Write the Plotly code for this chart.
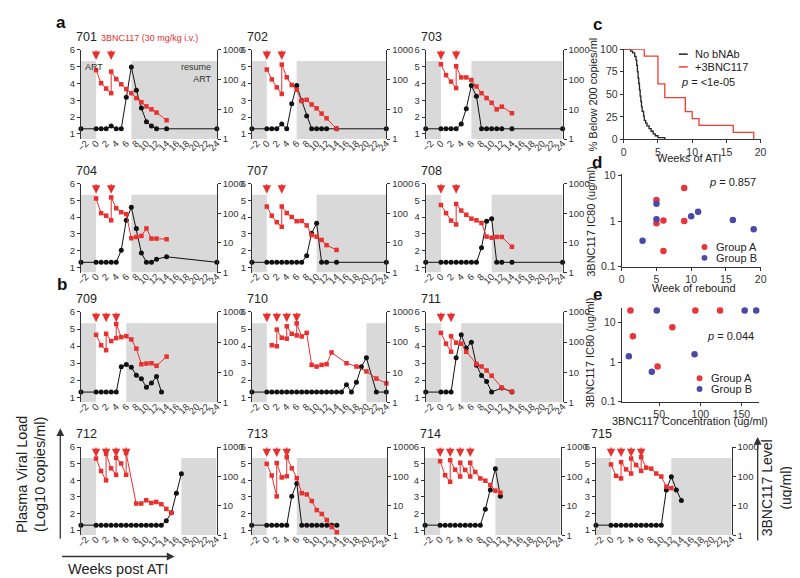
import plotly.graph_objects as go

W, H = 800, 578
RED = '#e8312f'
BLACK = '#111111'
SHADE = '#d9d9d9'
BLUE = '#4a4aa6'
FONT = 'Liberation Sans, Arial, sans-serif'

# ---- per-participant data: weeks / log10 viral load (black), weeks / 3BNC117 ug/ml (red)
wk_701 = [-3, 0, 1, 2, 3, 4, 5, 6, 7, 8, 9, 10, 11, 12, 14, 24]
vl_701 = [1.3, 1.3, 1.3, 1.3, 1.47, 1.3, 1.3, 3.18, 4.99, 3.6, 2.54, 1.72, 1.47, 1.3, 1.3, 1.3]
abwk_701 = [0, 1, 2, 3, 3, 4, 5, 6, 7, 8, 9, 10, 11, 12, 14]
ab_701 = [209, 76, 50, 35, 187, 105, 70, 48, 35, 24, 17.4, 12.6, 10, 7.8, 4.3]
inf_701 = [0, 3]
art_701 = 7

wk_702 = [-3, 0, 1, 2, 3, 4, 5, 6, 7, 8, 9, 10, 11, 12, 14, 24]
vl_702 = [1.3, 1.3, 1.3, 1.3, 1.58, 1.3, 2.79, 3.88, 2.98, 2.07, 1.3, 1.3, 1.3, 1.3, 1.3, 1.3]
abwk_702 = [0, 1, 2, 3, 3, 4, 5, 6, 7, 8, 9, 10, 11, 12, 14]
ab_702 = [219, 102, 55, 33, 321, 120, 66, 46, 19, 21, 14.6, 10.8, 7.2, 5.0, 2.2]
inf_702 = [0, 3]
art_702 = 6

wk_703 = [-3, 0, 1, 2, 3, 4, 5, 6, 7, 8, 9, 10, 11, 12, 14, 24]
vl_703 = [1.3, 1.3, 1.3, 1.3, 1.3, 1.58, 2.5, 3.88, 3.24, 1.3, 1.3, 1.3, 1.3, 1.3, 1.3, 1.3]
abwk_703 = [0, 1, 2, 3, 3, 4, 5, 6, 7, 8, 9, 10, 11, 12, 14]
ab_703 = [330, 142, 86, 52, 283, 119, 119, 97, 59, 35, 24, 16.6, 10, 12.3, 7.4]
inf_703 = [0, 3]
art_703 = 6

wk_704 = [-3, 0, 1, 2, 3, 4, 5, 6, 7, 8, 9, 10, 11, 12, 14, 24]
vl_704 = [1.3, 1.3, 1.3, 1.3, 1.3, 1.3, 2.02, 3.82, 4.59, 3.32, 1.86, 1.3, 1.3, 1.49, 1.63, 1.3]
abwk_704 = [0, 1, 2, 3, 3, 4, 5, 6, 7, 8, 9, 10, 11, 12, 14]
ab_704 = [317, 101, 83, 58, 344, 148, 109, 94, 14.4, 15.9, 17.2, 30.8, 14, 14, 13.3]
inf_704 = [0, 3]
art_704 = 7

wk_707 = [-3, 0, 1, 2, 3, 4, 5, 6, 7, 8, 9, 10, 11, 12, 14, 24]
vl_707 = [1.3, 1.3, 1.3, 1.3, 1.3, 1.3, 1.3, 1.3, 1.3, 1.69, 3.04, 3.63, 1.3, 1.3, 1.3, 1.3]
abwk_707 = [0, 1, 2, 3, 3, 4, 5, 6, 7, 8, 9, 10, 11, 12, 14]
ab_707 = [169, 83, 50, 35, 169, 102, 75, 54, 55, 39, 18.5, 16.3, 12.6, 8.4, 5.8]
inf_707 = [0, 3]
art_707 = 10

wk_708 = [-3, 0, 1, 2, 3, 4, 5, 6, 7, 8, 9, 10, 11, 12, 14, 24]
vl_708 = [1.3, 1.3, 1.3, 1.3, 1.3, 1.3, 1.3, 1.3, 1.3, 2.17, 3.76, 3.9, 1.3, 1.3, 1.3, 1.3]
abwk_708 = [0, 1, 2, 3, 3, 4, 5, 6, 7, 8, 9, 10, 11, 12, 14]
ab_708 = [191, 101, 57, 42, 207, 124, 89, 66, 58, 47, 16.3, 15, 15.9, 15.9, 7.4]
inf_708 = [0, 3]
art_708 = 10

wk_709 = [-3, 0, 1, 2, 3, 4, 5, 6, 7, 8, 9, 10, 11, 12, 13]
vl_709 = [1.3, 1.3, 1.3, 1.3, 1.3, 1.3, 2.79, 2.92, 2.75, 2.29, 2.08, 1.58, 1.83, 2.21, 1.3]
abwk_709 = [0, 1, 2, 2, 3, 4, 4, 5, 6, 7, 8, 9, 10, 11, 12, 14]
ab_709 = [175, 79, 54, 189, 109, 136, 398, 147, 158, 123, 61, 18.5, 19.5, 20, 16.4, 33]
inf_709 = [0, 2, 4]
art_709 = 6

wk_710 = [-3, 0, 1, 2, 3, 4, 5, 6, 7, 8, 9, 10, 11, 12, 13, 14, 15, 16, 17, 18, 19, 20, 22, 24]
vl_710 = [1.3, 1.3, 1.3, 1.3, 1.3, 1.3, 1.3, 1.3, 1.3, 1.3, 1.3, 1.3, 1.3, 1.3, 1.3, 1.3, 1.3,
          1.73, 1.3, 1.87, 2.79, 3.31, 1.3, 1.3]
abwk_710 = [1, 2, 2, 3, 4, 4, 5, 6, 6, 7, 8, 9, 10, 11, 12, 13, 16, 18, 20, 22, 24]
ab_710 = [79, 73, 261, 140, 130, 335, 189, 167, 418, 154, 203, 17.6, 15.5, 17.6, 18.5, 45.6,
          20, 15.5, 10.7, 6.2, 4.3]
inf_710 = [0, 2, 4, 6]
art_710 = 20

wk_711 = [-3, 0, 1, 2, 3, 4, 5, 6, 7, 8, 9, 10, 12, 14]
vl_711 = [1.3, 1.3, 1.3, 1.3, 3.31, 4.67, 3.88, 4.23, 2.88, 2.27, 1.92, 1.3, 1.54, 1.3]
abwk_711 = [0, 1, 2, 2, 3, 4, 5, 7, 8, 9, 10, 12, 14]
ab_711 = [203, 89, 48, 158, 96, 89, 48, 19, 15.6, 11.5, 7.7, 3.1, 2.3]
inf_711 = [0, 2]
art_711 = 4

wk_712 = [-3, 0, 1, 2, 3, 4, 5, 6, 7, 8, 9, 10, 11, 12, 13, 14, 15, 16, 17]
vl_712 = [1.3, 1.3, 1.3, 1.3, 1.3, 1.3, 1.3, 1.3, 1.3, 1.3, 1.3, 1.3, 1.3, 1.3, 1.3, 1.56, 2.04, 3.22, 4.4]
abwk_712 = [0, 1, 2, 2, 3, 4, 4, 5, 6, 6, 8, 9, 10, 11, 12, 13, 14, 15]
ab_712 = [408, 154, 74, 600, 190, 114, 430, 278, 114, 630, 12, 12, 15.5, 12.6, 13.6, 11.4, 7.9, 5.8]
inf_712 = [0, 2, 4, 6]
art_712 = 17

wk_713 = [-3, 0, 1, 2, 3, 4, 5, 6, 7, 8, 9, 10, 11, 12, 13, 14]
vl_713 = [1.3, 1.3, 1.3, 1.3, 1.3, 1.3, 3.04, 3.81, 1.3, 1.3, 1.3, 1.3, 1.3, 1.3, 1.3, 1.3]
abwk_713 = [0, 1, 2, 2, 3, 4, 4, 5, 6, 7, 8, 9, 10, 11, 12, 13, 14]
ab_713 = [271, 108, 21, 288, 93, 102, 454, 190, 88, 27, 24.5, 14.7, 7.2, 5.3, 3.3, 1.9, 1.26]
inf_713 = [0, 2, 4]
art_713 = 6

wk_714 = [-3, 0, 1, 2, 3, 4, 5, 6, 7, 8, 9, 10, 11, 12]
vl_714 = [1.3, 1.3, 1.3, 1.3, 1.3, 1.3, 1.3, 1.3, 1.3, 1.3, 2.25, 3.42, 4.7, 3.04]
abwk_714 = [0, 1, 2, 2, 3, 4, 4, 5, 6, 6, 7, 8, 9, 10, 11, 12]
ab_714 = [331, 110, 66, 360, 171, 100, 294, 167, 100, 294, 143, 86, 72, 51, 33, 28]
inf_714 = [0, 2, 4, 6]
art_714 = 11

wk_715 = [-3, 0, 1, 2, 3, 4, 5, 6, 7, 8, 9, 10, 11, 12, 13, 14]
vl_715 = [1.3, 1.3, 1.3, 1.3, 1.3, 1.3, 1.3, 1.3, 1.3, 1.3, 1.3, 1.3, 3.42, 4.22, 3.42, 2.79]
abwk_715 = [0, 1, 2, 2, 3, 4, 4, 5, 6, 6, 7, 8, 9, 10, 11, 12]
ab_715 = [257, 105, 86, 309, 175, 126, 409, 245, 155, 454, 200, 185, 126, 100, 45, 40]
inf_715 = [0, 2, 4, 6]
art_715 = 12

week_ticks = list(range(-2, 25, 2))
vl_ticks = [1, 2, 3, 4, 5, 6]
ab_ticks = [1, 10, 100, 1000]

# ---- panel c: Kaplan-Meier, % below 200 copies/ml
km_ctrl_wk = [0, 1.0, 1.3, 1.6, 1.8, 1.9, 2.0, 2.1, 2.2, 2.3, 2.4, 2.5, 2.6, 2.7, 2.9, 3.0, 3.2, 3.4, 3.7, 4.0, 4.3, 4.6, 5.0, 6.0]
km_ctrl_pct = [100, 98, 96, 92, 88, 82, 75, 68, 62, 55, 48, 42, 36, 31, 26, 21, 18, 15, 12, 9, 6, 4, 2, 0]
km_ab_wk = [0, 3, 5, 6, 9, 10, 11, 16, 19]
km_ab_pct = [100, 92.3, 61.5, 46.2, 30.8, 23.1, 15.4, 7.7, 0]

# ---- panel d: IC80 vs week of rebound
d_a_week = [9, 5, 6, 5, 9, 6]
d_a_ic80 = [5.3, 2.9, 1.03, 0.9, 1.0, 0.22]
d_b_week = [5, 11, 10, 5, 16, 19, 3]
d_b_ic80 = [2.4, 1.6, 1.28, 1.09, 1.05, 0.66, 0.37]

# ---- panel e: IC80 vs 3BNC117 concentration
e_a_conc = [15, 94, 124, 66, 18, 48]
e_a_ic80 = [20, 20, 20, 7.6, 4.5, 0.77]
e_b_conc = [47, 154, 168, 2, 13, 93, 41]
e_b_ic80 = [20, 20, 20, 1.8, 1.4, 1.58, 0.57]

panels = [
    ('701', wk_701, vl_701, abwk_701, ab_701, inf_701, art_701),
    ('702', wk_702, vl_702, abwk_702, ab_702, inf_702, art_702),
    ('703', wk_703, vl_703, abwk_703, ab_703, inf_703, art_703),
    ('704', wk_704, vl_704, abwk_704, ab_704, inf_704, art_704),
    ('707', wk_707, vl_707, abwk_707, ab_707, inf_707, art_707),
    ('708', wk_708, vl_708, abwk_708, ab_708, inf_708, art_708),
    ('709', wk_709, vl_709, abwk_709, ab_709, inf_709, art_709),
    ('710', wk_710, vl_710, abwk_710, ab_710, inf_710, art_710),
    ('711', wk_711, vl_711, abwk_711, ab_711, inf_711, art_711),
    ('712', wk_712, vl_712, abwk_712, ab_712, inf_712, art_712),
    ('713', wk_713, vl_713, abwk_713, ab_713, inf_713, art_713),
    ('714', wk_714, vl_714, abwk_714, ab_714, inf_714, art_714),
    ('715', wk_715, vl_715, abwk_715, ab_715, inf_715, art_715),
]

# pixel boxes (left, right, top, bottom) for each small panel
cols = [(68, 206), (241.5, 378), (418, 557)]
rows = [(36.7, 127.7), (173.3, 264), (304.3, 396.7), (442.3, 532.3)]
boxes = []
for r in range(3):
    for c in range(3):
        boxes.append(cols[c] + rows[r])
boxes += [(68, 205.6) + rows[3], (241.3, 378.6) + rows[3], (417.3, 555) + rows[3],
          (590.8, 728.6) + rows[3]]


def px(x):
    return x / W


def py(y):
    return 1 - y / H


def note(x, y, text, size=11, color='#222', **kw):
    d = dict(x=px(x), y=py(y), xref='paper', yref='paper', text=text, showarrow=False,
             xanchor='center', yanchor='middle', font=dict(family=FONT, size=size, color=color))
    d.update(kw)
    return d


fig = go.Figure()
layout = dict(width=W, height=H, margin=dict(l=0, r=0, t=0, b=0),
              paper_bgcolor='white', plot_bgcolor='rgba(0,0,0,0)',
              showlegend=False, font=dict(family=FONT, color='#222', size=10))
shapes, annos = [], []
tick_font = dict(family=FONT, size=9.5, color='#333')

for i, (name, wk, vl, abwk, ab, inf, art) in enumerate(panels):
    x0, x1, t, b = boxes[i]
    xa, yl, yr = i + 1, 2 * i + 1, 2 * i + 2
    xs = 'x%d' % xa if xa > 1 else 'x'
    ys_l = 'y%d' % yl if yl > 1 else 'y'
    ys_r = 'y%d' % yr
    layout['xaxis%s' % (xa if xa > 1 else '')] = dict(
        domain=[px(x0), px(x1)], anchor=ys_l, range=[-3, 24], tickvals=week_ticks,
        tickangle=-45, showline=False, ticks='', showgrid=False, zeroline=False,
        tickfont=tick_font, ticklabelstandoff=-4)
    layout['yaxis%s' % (yl if yl > 1 else '')] = dict(
        domain=[py(b), py(t)], anchor=xs, range=[0.69, 6], tickvals=vl_ticks,
        showline=True, linecolor='#333', linewidth=1, ticks='outside', ticklen=3,
        tickcolor='#333', showgrid=False, zeroline=False, tickfont=tick_font)
    layout['yaxis%d' % yr] = dict(
        overlaying=ys_l, anchor=xs, side='right', type='log', range=[0, 3],
        tickvals=ab_ticks, ticktext=[str(v) for v in ab_ticks],
        showline=True, linecolor='#333', linewidth=1, ticks='outside', ticklen=3,
        tickcolor='#333', showgrid=False, zeroline=False, tickfont=tick_font)

    # ART shading: before ATI and after ART resumption
    for sx0, sx1 in [(-3, 0), (art, 24)]:
        shapes.append(dict(type='rect', xref=xs, yref=ys_l, x0=sx0, x1=sx1, y0=0.69, y1=5.34,
                           fillcolor=SHADE, line=dict(width=0), layer='below'))

    fig.add_trace(go.Scatter(x=wk, y=vl, xaxis=xs, yaxis=ys_l, mode='lines+markers',
                             line=dict(color=BLACK, width=1),
                             marker=dict(symbol='circle', size=5, color=BLACK),
                             cliponaxis=False))
    fig.add_trace(go.Scatter(x=abwk, y=ab, xaxis=xs, yaxis=ys_r, mode='lines+markers',
                             line=dict(color=RED, width=1),
                             marker=dict(symbol='square', size=4.5, color=RED),
                             cliponaxis=False))
    for w in inf:
        annos.append(dict(x=w, y=5.4, xref=xs, yref=ys_l, ax=0, ay=-11, showarrow=True,
                          arrowhead=2, arrowsize=1.3, arrowwidth=1.3, arrowcolor=RED, text=''))
    annos.append(note(x0 - 7, t - 13, name, size=12.5, xanchor='left'))

annos += [
    note(86, 25, '3BNC117 (30 mg/kg i.v.)', size=9, color=RED, xanchor='left'),
    note(70, 54, 'ART', size=9, color='#333', xanchor='left'),
    note(203, 60, 'resume<br>ART', size=9, color='#333', xanchor='right', align='right'),
]

# ---- right-hand panels c, d, e
ax_common = dict(showline=True, linecolor='#333', linewidth=1, ticks='outside', ticklen=3,
                 tickcolor='#333', showgrid=False, zeroline=False,
                 tickfont=dict(family=FONT, size=10.5, color='#333'))
layout['xaxis14'] = dict(domain=[px(619), px(758)], anchor='y27', range=[0, 20],
                         tickvals=[0, 5, 10, 15, 20], **ax_common)
layout['yaxis27'] = dict(domain=[py(128), py(36)], anchor='x14', range=[0, 100],
                         tickvals=[0, 25, 50, 75, 100], **ax_common)
layout['xaxis15'] = dict(domain=[px(617), px(758)], anchor='y28', range=[0, 20],
                         tickvals=[0, 5, 10, 15, 20], **ax_common)
layout['yaxis28'] = dict(domain=[py(258), py(163)], anchor='x15', type='log', range=[-1, 1.04],
                         tickvals=[0.1, 1, 10], ticktext=['0.1', '1', '10'], **ax_common)
layout['xaxis16'] = dict(domain=[px(617), px(756)], anchor='y29', range=[4.4, 171],
                         tickvals=[50, 100, 150], **ax_common)
layout['yaxis29'] = dict(domain=[py(396), py(300)], anchor='x16', type='log', range=[-1, 1.37],
                         tickvals=[0.1, 1, 10], ticktext=['0.1', '1', '10'], **ax_common)

fig.add_trace(go.Scatter(x=km_ctrl_wk, y=km_ctrl_pct, xaxis='x14', yaxis='y27', mode='lines',
                         line=dict(color='#222', width=1.3, shape='hv'), cliponaxis=False))
fig.add_trace(go.Scatter(x=km_ab_wk, y=km_ab_pct, xaxis='x14', yaxis='y27', mode='lines',
                         line=dict(color='#f03c32', width=1.3, shape='hv'), cliponaxis=False))
for xs_, ys_, xv, yv, col in [('x15', 'y28', d_a_week, d_a_ic80, '#e8343a'),
                              ('x15', 'y28', d_b_week, d_b_ic80, BLUE),
                              ('x16', 'y29', e_a_conc, e_a_ic80, '#e8343a'),
                              ('x16', 'y29', e_b_conc, e_b_ic80, BLUE)]:
    fig.add_trace(go.Scatter(x=xv, y=yv, xaxis=xs_, yaxis=ys_, mode='markers',
                             marker=dict(size=6.5, color=col), cliponaxis=False))

annos += [
    note(588, 82, '% Below 200 copies/ml', textangle=-90),
    note(685, 147, 'Weeks of ATI'),
    note(585, 212, '3BNC117 IC80 (ug/ml)', textangle=-90),
    note(690, 280, 'Week of rebound'),
    note(585, 346, '3BNC117 IC80 (ug/ml)', textangle=-90),
    note(686, 416, '3BNC117 Concentration (ug/ml)'),
    note(689, 41, 'No bNAb', xanchor='left'),
    note(689, 54, '+3BNC117', xanchor='left'),
    note(675, 69, '<i>p</i> = <1e-05', xanchor='left'),
    note(704, 172, '<i>p</i> = 0.857', xanchor='left'),
    note(711, 238, 'Group A', xanchor='left'),
    note(711, 249, 'Group B', xanchor='left'),
    note(702, 329, '<i>p</i> = 0.044', xanchor='left'),
    note(706, 372, 'Group A', xanchor='left'),
    note(706, 383, 'Group B', xanchor='left'),
]
for ty, col in [(41, '#222'), (54, '#f03c32')]:
    shapes.append(dict(type='line', xref='paper', yref='paper', x0=px(675), x1=px(684),
                       y0=py(ty), y1=py(ty), line=dict(color=col, width=1.5)))
for cx, cy, col in [(701, 238, '#e8343a'), (701, 249, BLUE), (696, 372, '#e8343a'), (696, 383, BLUE)]:
    shapes.append(dict(type='circle', xref='paper', yref='paper', x0=px(cx - 3), x1=px(cx + 3),
                       y0=py(cy + 3), y1=py(cy - 3), fillcolor=col, line=dict(width=0)))

# panel letters
for letter, lx, ly in [('a', 48, 9), ('b', 49, 276), ('c', 592, 11), ('d', 592, 152), ('e', 592, 286)]:
    annos.append(note(lx, ly, '<b>%s</b>' % letter, size=17, color='#111'))

# axis guides bottom left / right
annos += [
    note(17, 470, 'Plasma Viral Load<br>(Log10 copies/ml)', size=14.5, textangle=-90),
    note(105.5, 567, 'Weeks post ATI', size=14.5),
    note(774, 484, '3BNC117 Level<br>(ug/ml)', size=14, textangle=-90),
]
arrow = dict(xref='paper', yref='paper', axref='pixel', ayref='pixel', showarrow=True,
             arrowhead=2, arrowsize=1.2, arrowwidth=1.3, arrowcolor='#333', text='')
annos += [
    dict(x=px(163), y=py(554), ax=-114, ay=0, **arrow),
    dict(x=px(47), y=py(423), ax=0, ay=112, **arrow),
    dict(x=px(755), y=py(432), ax=0, ay=105, **arrow),
]

layout['shapes'] = shapes
layout['annotations'] = annos
fig.update_layout(**layout)
fig.write_html('out.html')
